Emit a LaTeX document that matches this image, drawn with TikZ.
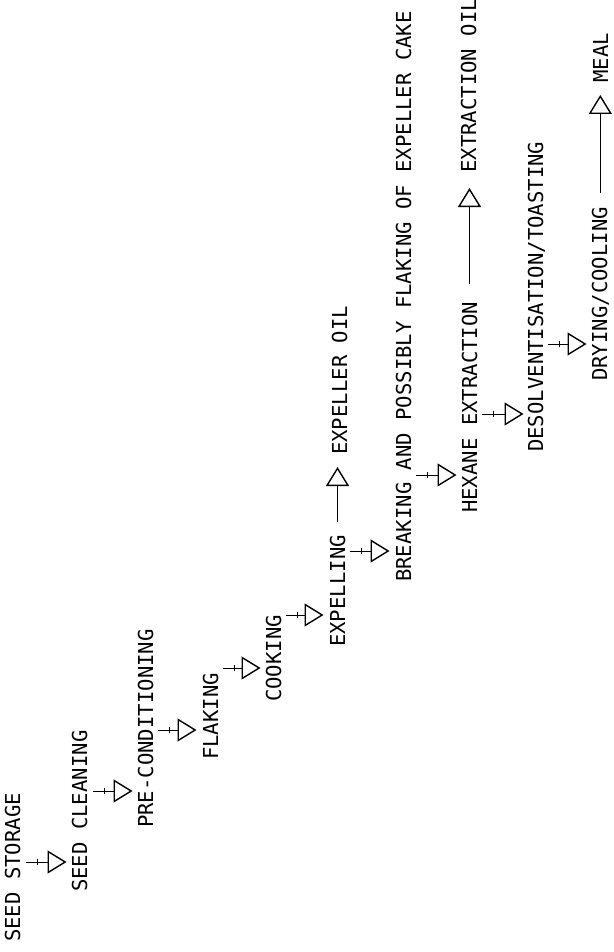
\documentclass[tikz,border=0pt]{standalone}
\usepackage{fontspec}
\newfontfamily\plotfont{DejaVu Sans Mono}
\usetikzlibrary{arrows.meta,calc,decorations.markings}
\begin{document}
\begin{tikzpicture}[x=1pt,y=-1pt,
  lbl/.style={rotate=90, anchor=base west, inner sep=0pt,
    font=\plotfont\fontsize{20.6}{24}\selectfont},
  riser/.style={line width=0.9pt,
    -{Triangle[open,length=19pt,width=23pt,line width=1.4pt]}},
  flow/.style={riser, postaction={decorate},
    decoration={markings, mark=at position 11pt with
      {\draw[line width=0.7pt,-] (0,-3pt) -- (0,3pt);}}}
]
\useasboundingbox (0,0) rectangle (613,952);

\node[lbl] (n1)  at (20,942)  {SEED STORAGE};
\node[lbl] (n2)  at (87,892)  {SEED CLEANING};
\node[lbl] (n3)  at (153,828) {PRE-CONDITIONING};
\node[lbl] (n4)  at (218,760) {FLAKING};
\node[lbl] (n5)  at (281,702) {COOKING};
\node[lbl] (n6)  at (345,647) {EXPELLING};
\node[lbl] (n7)  at (347,455) {EXPELLER OIL};
\node[lbl] (n8)  at (411,582) {BREAKING AND POSSIBLY FLAKING OF EXPELLER CAKE};
\node[lbl] (n9)  at (477,513) {HEXANE EXTRACTION};
\node[lbl] (n10) at (476,173) {EXTRACTION OIL};
\node[lbl] (n11) at (543,452) {DESOLVENTISATION/TOASTING};
\node[lbl] (n12) at (607,381) {DRYING/COOLING};
\node[lbl] (n13) at (608,83)  {MEAL};

\coordinate (r1) at (0,862);
\coordinate (r2) at (0,791);
\coordinate (r3) at (0,730);
\coordinate (r4) at (0,668);
\coordinate (r5) at (0,615);
\coordinate (r6) at (0,551);
\coordinate (r7) at (0,475);
\coordinate (r8) at (0,414);
\coordinate (r9) at (0,344);

\draw[flow] ($(n1.south |- r1)+(6,0)$) -- ($(n2.north |- r1)+(-5,0)$);
\draw[flow] ($(n2.south |- r2)+(6,0)$) -- ($(n3.north |- r2)+(-5,0)$);
\draw[flow] ($(n3.south |- r3)+(5,0)$) -- ($(n4.north |- r3)+(-6,0)$);
\draw[flow] ($(n4.south |- r4)+(5,0)$) -- ($(n5.north |- r4)+(-5,0)$);
\draw[flow] ($(n5.south |- r5)+(5,0)$) -- ($(n6.north |- r5)+(-6,0)$);
\draw[flow] ($(n6.south |- r6)+(5,0)$) -- ($(n8.north |- r6)+(-6,0)$);
\draw[flow] ($(n8.south |- r7)+(5,0)$) -- ($(n9.north |- r7)+(-5,0)$);
\draw[flow] ($(n9.south |- r8)+(5,0)$) -- ($(n11.north |- r8)+(-4,0)$);
\draw[flow] ($(n11.south |- r9)+(3,0)$) -- ($(n12.north |- r9)+(-5,0)$);

\draw[riser] ($(n6.east)+(0,-13)$) -- ($(n6.east |- n7.west)+(0,12)$);
\draw[riser] ($(n9.east)+(0,-18)$) -- ($(n9.east |- n10.west)+(0,15)$);
\draw[riser] ($(n12.east)+(0,-14)$) -- ($(n12.east |- n13.west)+(0,12)$);
\end{tikzpicture}
\end{document}
